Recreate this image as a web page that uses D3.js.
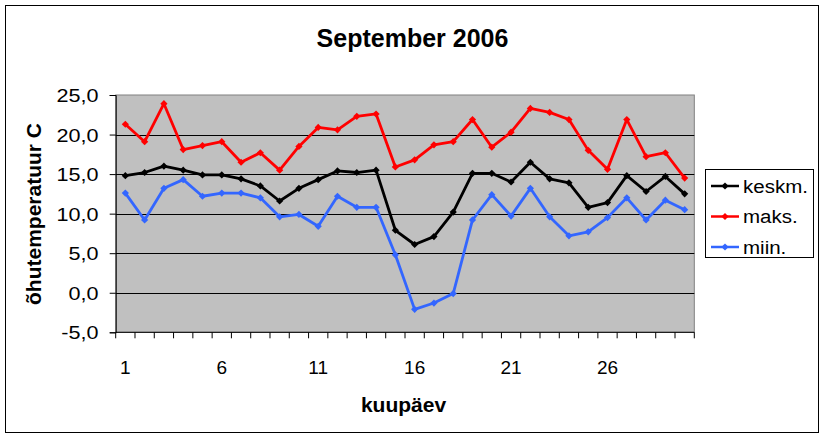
<!DOCTYPE html>
<html><head><meta charset="utf-8">
<script src="https://cdn.jsdelivr.net/npm/d3@7"></script>
<style>
html,body{margin:0;padding:0;background:#fff;}
svg{display:block;font-family:"Liberation Sans",Arial,sans-serif;}
</style></head>
<body>
<svg id="c" width="825" height="438"></svg>
<script>
const days = d3.range(1, 31);
const xTickLabels = [1, 6, 11, 16, 21, 26];
const yTicks = [-5, 0, 5, 10, 15, 20, 25];
const seriesNames = ["keskm.", "maks.", "miin."];
const seriesColors = ["#000000", "#FF0000", "#3366FF"];
const keskm = [14.8,15.2,16.0,15.5,14.9,14.9,14.4,13.5,11.6,13.2,14.3,15.4,15.2,15.5,7.9,6.1,7.1,10.2,15.1,15.1,14.0,16.5,14.4,13.9,10.8,11.4,14.8,12.8,14.7,12.5];
const maks  = [21.3,19.1,23.9,18.1,18.6,19.1,16.5,17.7,15.5,18.5,20.9,20.6,22.3,22.6,15.9,16.8,18.7,19.1,21.9,18.4,20.3,23.3,22.8,21.9,18.0,15.6,21.9,17.2,17.7,14.5];
const miin  = [12.6,9.2,13.2,14.3,12.2,12.6,12.6,12.0,9.6,9.9,8.4,12.2,10.8,10.8,4.8,-2.1,-1.3,-0.1,9.2,12.4,9.7,13.2,9.6,7.2,7.7,9.5,12.0,9.2,11.7,10.5];
const seriesValues = [keskm, maks, miin];

const svg = d3.select("#c");
const L = 115.7, R = 694.3, T = 95, B = 332.3;
const x = d3.scaleLinear().domain([0.5, 30.5]).range([L, R]);
const y = d3.scaleLinear().domain([-5, 25]).range([B, T]);

// outer border
svg.append("rect").attr("x", 5.5).attr("y", 5.5).attr("width", 813).attr("height", 427)
  .attr("fill", "#fff").attr("stroke", "#000").attr("stroke-width", 1);

// plot area
svg.append("rect").attr("x", L).attr("y", T).attr("width", R - L).attr("height", B - T)
  .attr("fill", "#C0C0C0").attr("stroke", "#808080").attr("stroke-width", 1);

// gridlines
svg.append("g").selectAll("line").data(yTicks.filter(d => d > -5 && d < 25)).join("line")
  .attr("x1", L).attr("x2", R).attr("y1", d => Math.round(y(d)) + 0.5).attr("y2", d => Math.round(y(d)) + 0.5)
  .attr("stroke", "#000").attr("stroke-width", 1);

// y axis
const yAxis = svg.append("g").attr("transform", `translate(${L},0)`)
  .call(d3.axisLeft(y).tickValues(yTicks).tickSize(6).tickPadding(0)
    .tickFormat(d => d3.format(".1f")(d).replace(".", ",").replace("−", "-")));
yAxis.select(".domain").attr("stroke", "#000");
yAxis.selectAll(".tick line").attr("stroke", "#000");
yAxis.selectAll(".tick text").attr("x", -14.3).attr("dy", "0.36em")
  .attr("transform", "scale(1.2,1)")
  .attr("font-size", 18).attr("fill", "#000").attr("font-family", "Liberation Sans, Arial, sans-serif");

// x axis line
svg.append("line").attr("x1", L).attr("x2", R).attr("y1", B).attr("y2", B).attr("stroke", "#000");
// boundary ticks
svg.append("g").selectAll("line").data(d3.range(0, 31).map(i => i + 0.5)).join("line")
  .attr("x1", d => x(d)).attr("x2", d => x(d)).attr("y1", B).attr("y2", B + 6)
  .attr("stroke", "#000");
// x labels
svg.append("g").selectAll("text").data(xTickLabels).join("text")
  .attr("x", d => x(d)).attr("y", 373.5).attr("text-anchor", "middle")
  .attr("font-size", 19).text(d => d);

// lines and markers
const line = d3.line().x((d, i) => x(days[i])).y(d => y(d));
const diamond = d3.symbol(d3.symbolSquare).size(26);
seriesValues.forEach((vals, s) => {
  svg.append("path").datum(vals).attr("d", line).attr("fill", "none")
    .attr("stroke", seriesColors[s]).attr("stroke-width", 2.8).attr("stroke-linejoin", "round");
  svg.append("g").selectAll("path").data(vals).join("path")
    .attr("d", diamond)
    .attr("transform", (d, i) => `translate(${x(days[i])},${y(d)}) rotate(45)`)
    .attr("fill", seriesColors[s]);
});

// title
svg.append("text").attr("x", 412.5).attr("y", 46.5).attr("text-anchor", "middle")
  .attr("font-size", 25).attr("font-weight", "bold").text("September 2006");
// x title
svg.append("text").attr("x", 403.5).attr("y", 411.5).attr("text-anchor", "middle")
  .attr("font-size", 21).attr("font-weight", "bold").text("kuupäev");
// y title
svg.append("text").attr("transform", "translate(41,214) rotate(-90)").attr("text-anchor", "middle")
  .attr("font-size", 21).attr("font-weight", "bold").text("õhutemperatuur C");

// legend
const lg = svg.append("g");
lg.append("rect").attr("x", 705.5).attr("y", 169.5).attr("width", 108).attr("height", 88)
  .attr("fill", "#fff").attr("stroke", "#000");
seriesNames.forEach((n, i) => {
  const cy = 186 + i * 30.5;
  lg.append("line").attr("x1", 711).attr("x2", 739).attr("y1", cy).attr("y2", cy)
    .attr("stroke", seriesColors[i]).attr("stroke-width", 2.5);
  lg.append("path").attr("d", diamond).attr("transform", `translate(725,${cy}) rotate(45)`)
    .attr("fill", seriesColors[i]);
  lg.append("text").attr("x", 743).attr("y", cy + 7).attr("font-size", 19)
    .attr("transform", `translate(${743 * -0.08},0) scale(1.08,1)`).text(n);
});
</script>
</body></html>
